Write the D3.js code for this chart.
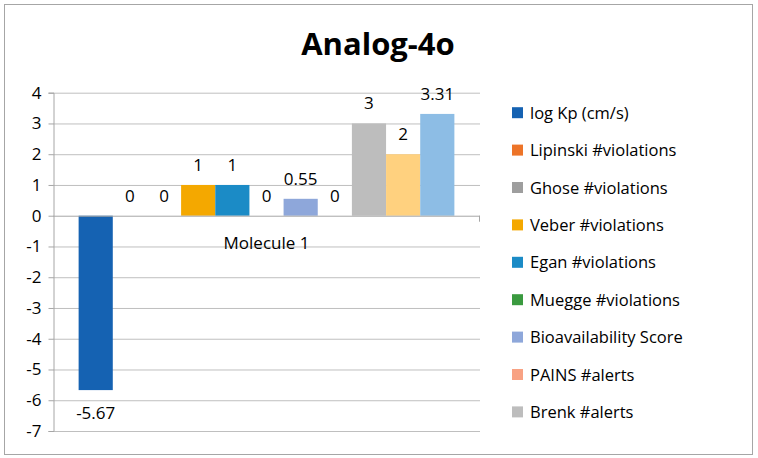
<!DOCTYPE html>
<html>
<head>
<meta charset="utf-8">
<script src="https://cdn.jsdelivr.net/npm/d3@7"></script>
<style>
  body { margin: 0; background: #fff; }
  svg text { font-family: "Open Sans", "Noto Sans", sans-serif; fill: #000; }
</style>
</head>
<body>
<div class="chart"></div>
<script>
const category = "Molecule 1";
const seriesNames = [
  "log Kp (cm/s)", "Lipinski #violations", "Ghose #violations", "Veber #violations",
  "Egan #violations", "Muegge #violations", "Bioavailability Score", "PAINS #alerts",
  "Brenk #alerts", "Leadlikeness #violations", "Synthetic accessibility"
];
const seriesValues = [-5.67, 0, 0, 1, 1, 0, 0.55, 0, 3, 2, 3.31];
const seriesColors = [
  "#1562b2", "#ed7428", "#9e9e9e", "#f4a800", "#1b8bc6", "#3a9a3f",
  "#8ea7da", "#f8a283", "#bdbdbd", "#ffd17f", "#8dbde5"
];
const yTicks = [4, 3, 2, 1, 0, -1, -2, -3, -4, -5, -6, -7];
const legendShown = 9;

const width = 758, height = 458;
const plot = { left: 53, right: 480, top: 92.7, bottom: 431 };

const svg = d3.select(".chart").append("svg")
  .attr("width", width).attr("height", height);

svg.append("rect")
  .attr("x", 4.5).attr("y", 4.5).attr("width", 748).attr("height", 450)
  .attr("fill", "#fff").attr("stroke", "#a6a6a6");

svg.append("text")
  .attr("x", 378).attr("y", 55).attr("text-anchor", "middle")
  .attr("font-size", 31).attr("font-weight", "bold")
  .text("Analog-4o");

const y = d3.scaleLinear().domain([-7, 4]).range([plot.bottom, plot.top]);

// Excel-style: gap width 150% of a bar
const x0 = d3.scaleBand().domain([category]).range([plot.left, plot.right]);
const gap = 1.5;
const barW = x0.bandwidth() / (seriesNames.length + gap);
const x1 = d3.scaleBand().domain(seriesNames)
  .range([x0(category) + barW * gap / 2, x0(category) + x0.bandwidth() - barW * gap / 2]);

// gridlines
svg.append("g").selectAll("line").data(yTicks.filter(d => d !== 0)).join("line")
  .attr("x1", plot.left).attr("x2", plot.right)
  .attr("y1", d => y(d) + 0.5).attr("y2", d => y(d) + 0.5)
  .attr("stroke", "#bfbfbf");

// y axis
const yAxis = svg.append("g")
  .attr("transform", `translate(${plot.left + 0.5},0)`)
  .call(d3.axisLeft(y).tickValues(yTicks).tickSize(5).tickPadding(7).tickFormat(d3.format("d")));
yAxis.select(".domain").attr("stroke", "#a6a6a6");
yAxis.selectAll(".tick line").attr("stroke", "#a6a6a6");
yAxis.selectAll(".tick text").attr("font-size", 17).attr("fill", "#000")
  .attr("font-family", "'Open Sans', 'Noto Sans', sans-serif")
  .text(d => d < 0 ? "-" + Math.abs(d) : d);

// bars
svg.append("g").selectAll("rect").data(seriesValues).join("rect")
  .attr("x", (d, i) => x1(seriesNames[i]))
  .attr("width", x1.bandwidth())
  .attr("y", d => y(Math.max(0, d)))
  .attr("height", d => Math.abs(y(d) - y(0)))
  .attr("fill", (d, i) => seriesColors[i]);

// category axis at zero
const xAxis = svg.append("g")
  .attr("transform", `translate(0,${y(0) + 0.5})`)
  .call(d3.axisBottom(x0).tickSize(0).tickFormat(() => ""));
xAxis.select(".domain").attr("stroke", "#a6a6a6").attr("d", `M${plot.left},0H${plot.right}`);
svg.append("line")
  .attr("x1", plot.right - 0.5).attr("x2", plot.right - 0.5)
  .attr("y1", y(0)).attr("y2", y(0) + 6).attr("stroke", "#a6a6a6");

svg.append("text")
  .attr("x", x0(category) + x0.bandwidth() / 2).attr("y", y(0) + 33)
  .attr("text-anchor", "middle").attr("font-size", 17)
  .text(category);

// data labels
svg.append("g").selectAll("text").data(seriesValues).join("text")
  .attr("x", (d, i) => x1(seriesNames[i]) + x1.bandwidth() / 2)
  .attr("y", d => d < 0 ? y(d) + 29 : y(d) - 14)
  .attr("text-anchor", "middle").attr("font-size", 17)
  .text(d => d < 0 ? "-" + Math.abs(d) : d);

// legend
const legend = svg.append("g").selectAll("g")
  .data(seriesNames.slice(0, legendShown)).join("g")
  .attr("transform", (d, i) => `translate(512,${112.7 + i * 37.4})`);
legend.append("rect")
  .attr("x", 0).attr("y", -5.5).attr("width", 11).attr("height", 11)
  .attr("fill", (d, i) => seriesColors[i]);
legend.append("text")
  .attr("x", 18).attr("y", 6).attr("font-size", 16.5)
  .text(d => d);
</script>
</body>
</html>
